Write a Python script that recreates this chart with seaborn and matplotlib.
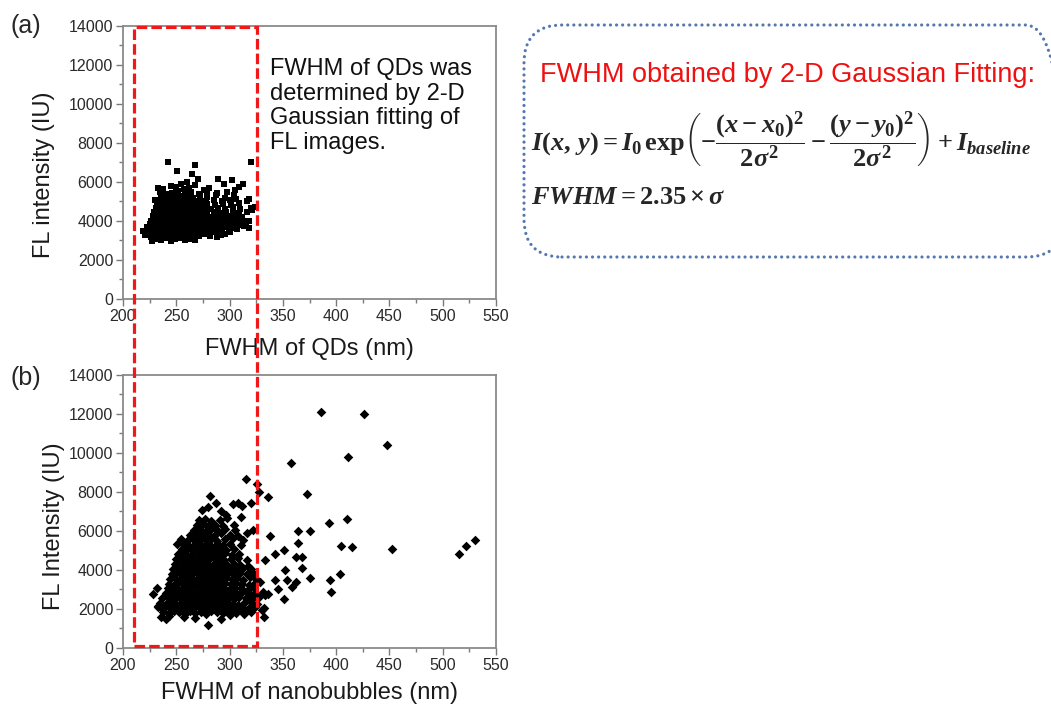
import matplotlib
matplotlib.use("Agg")
import matplotlib.pyplot as plt
import matplotlib.transforms as mtransforms
from matplotlib.patches import Rectangle, FancyBboxPatch
from matplotlib.ticker import MultipleLocator
import seaborn as sns

# (a) FL intensity vs FWHM of QDs
qd_fwhm = [
    227, 231, 236, 240, 245, 249, 254, 258, 263, 268,
    221, 226, 230, 234, 238, 242, 246, 250, 254, 258, 262, 266, 271, 276, 282, 288,
    219, 224, 228, 232, 236, 240, 244, 248, 252, 256, 260, 264, 268, 272, 277, 282, 287, 293, 299,
    223, 227, 231, 235, 239, 243, 247, 251, 255, 259, 263, 267, 271, 275, 280, 285, 290, 295, 301, 307, 313, 318,
    225, 229, 233, 237, 241, 245, 249, 253, 257, 261, 265, 269, 273, 277, 281, 286, 291, 296, 300, 305, 310, 315,
    226, 230, 234, 238, 242, 246, 250, 254, 258, 262, 266, 270, 274, 278, 283, 288, 293, 298, 303, 308, 313, 318,
    228, 232, 236, 240, 244, 248, 252, 256, 260, 264, 268, 272, 276, 281, 286, 292, 297, 302, 307, 312,
    229, 233, 237, 241, 245, 249, 253, 257, 261, 265, 269, 274, 279, 285, 291, 297, 303, 309, 316, 321,
    231, 235, 239, 243, 247, 251, 255, 259, 263, 267, 272, 277, 283, 289, 296, 303, 310, 320, 324,
    232, 236, 240, 244, 248, 252, 256, 260, 264, 268, 273, 279, 286, 294, 301, 309, 316,
    234, 238, 242, 246, 250, 254, 258, 262, 267, 272, 278, 285, 293, 300, 306,
    230, 236, 241, 246, 251, 256, 261, 266, 272, 279, 287, 296, 304, 318,
    235, 240, 246, 252, 258, 264, 271, 279, 288, 298, 305,
    233, 238, 245, 250, 254, 257, 262, 268, 276, 281, 289, 295, 302, 309, 313,
    242, 251, 265, 268, 320, 260, 270,
    314, 318, 296, 300, 292, 305,
]
qd_intensity = [
    2950, 3080, 3020, 3110, 2990, 3060, 3130, 3000, 3090, 3040,
    3300, 3200, 3260, 3340, 3220, 3290, 3180, 3350, 3240, 3310, 3200, 3280, 3230, 3320, 3250, 3190,
    3500, 3420, 3480, 3390, 3520, 3450, 3400, 3530, 3460, 3410, 3490, 3440, 3540, 3400, 3470, 3510, 3430, 3380, 3560,
    3700, 3620, 3680, 3600, 3720, 3650, 3590, 3710, 3640, 3690, 3610, 3730, 3660, 3600, 3700, 3640, 3580, 3690, 3620, 3570, 3800, 3650,
    3850, 3900, 3820, 3880, 3800, 3920, 3860, 3810, 3890, 3840, 3930, 3870, 3800, 3900, 3850, 3820, 3910, 3780, 3860, 3940, 3800, 3880,
    4000, 4080, 4030, 4100, 4010, 4060, 4120, 4040, 4090, 4000, 4070, 4110, 4020, 4060, 4100, 4030, 4080, 4000, 4120, 4050, 3980, 4020,
    4250, 4200, 4280, 4220, 4300, 4240, 4190, 4270, 4230, 4310, 4200, 4260, 4290, 4220, 4250, 4300, 4180, 4240, 4320, 4210,
    4450, 4400, 4480, 4420, 4500, 4440, 4390, 4470, 4430, 4510, 4400, 4460, 4420, 4480, 4400, 4450, 4500, 4420, 4480, 4550,
    4650, 4600, 4680, 4620, 4700, 4640, 4590, 4670, 4630, 4710, 4600, 4660, 4620, 4680, 4640, 4700, 4600, 4650, 4700,
    4850, 4800, 4880, 4820, 4900, 4840, 4790, 4870, 4830, 4910, 4800, 4860, 4820, 4880, 4840, 4900, 5000,
    5050, 5000, 5080, 5020, 5100, 5040, 4990, 5070, 5030, 5110, 5000, 5060, 5020, 5080, 5150,
    5100, 5250, 5200, 5280, 5220, 5300, 5240, 5190, 5270, 5230, 5310, 5200, 5350, 5150,
    5500, 5400, 5450, 5520, 5420, 5480, 5400, 5460, 5420, 5500, 5600,
    5700, 5650, 5800, 5750, 5900, 5650, 5700, 5850, 5600, 5700, 6150, 5900, 6100, 5750, 5900,
    7050, 6550, 6400, 6850, 7000, 6000, 6150,
    3750, 3620, 3350, 3450, 3300, 3900,
]

# (b) FL intensity vs FWHM of nanobubbles
nb_fwhm = [
    238, 243, 248, 253, 258, 263, 268, 273, 278, 283, 288, 294, 300, 306, 313, 320,
    233, 238, 243, 247, 251, 255, 259, 263, 267, 271, 275, 279, 283, 287, 291, 296, 301, 306, 312, 318, 324, 330,
    235, 240, 245, 249, 253, 257, 261, 265, 269, 273, 277, 281, 285, 289, 293, 298, 303, 308, 314, 320, 326,
    237, 242, 246, 250, 254, 258, 262, 266, 270, 274, 278, 282, 286, 290, 294, 299, 304, 309, 315, 321, 328,
    228, 240, 245, 249, 253, 257, 261, 265, 269, 273, 277, 281, 285, 289, 293, 297, 302, 307, 312, 318, 324, 331,
    232, 242, 247, 251, 255, 259, 263, 267, 271, 275, 279, 283, 287, 291, 295, 300, 305, 311, 317, 323,
    243, 248, 252, 256, 260, 264, 268, 272, 276, 280, 284, 288, 292, 296, 301, 306, 312, 318, 324, 329,
    244, 249, 253, 257, 261, 265, 269, 273, 277, 281, 285, 289, 293, 297, 302, 307, 313, 319, 325,
    246, 250, 254, 258, 262, 266, 270, 274, 278, 282, 286, 290, 294, 299, 304, 310, 316, 322,
    247, 251, 255, 259, 263, 267, 271, 275, 279, 283, 287, 291, 296, 301, 307, 313, 320,
    249, 253, 257, 261, 265, 269, 273, 277, 281, 285, 289, 293, 298, 304, 310, 317,
    250, 254, 258, 262, 266, 270, 274, 278, 282, 286, 290, 295, 301, 308, 316,
    252, 256, 260, 265, 270, 275, 279, 283, 287, 291, 296, 302, 309,
    255, 259, 264, 269, 274, 278, 282, 286, 291, 297, 304,
    251, 257, 262, 268, 273, 278, 283, 288, 294, 300, 311,
    254, 260, 266, 272, 277, 282, 288, 296, 303, 313,
    263, 269, 275, 280, 285, 292, 300, 308, 316,
    267, 272, 278, 283, 289, 296, 305, 322,
    269, 275, 280, 286, 294, 304,
    271, 277, 283, 291, 298,
    274, 280, 282, 287, 303, 308, 312, 315, 320, 326, 328, 297, 292, 311,
    236, 240, 257, 268, 280, 292, 300, 314, 243, 233,
    386, 426, 448, 411, 358, 373, 336, 393, 410, 364,
    375, 338, 405, 415, 452, 515, 522, 530, 364, 351,
    343, 362, 368, 333, 368, 352, 404, 375, 394, 343,
    354, 362, 345, 359, 395, 351, 336, 333, 332, 332,
]
nb_intensity = [
    1850, 1780, 1900, 1820, 1760, 1880, 1800, 1850, 1750, 1900, 1820, 1780, 1860, 1800, 1900, 1840,
    2100, 2000, 2080, 2020, 2110, 2050, 1990, 2090, 2030, 2120, 2000, 2070, 2040, 2100, 1980, 2060, 2120, 2010, 2080, 2030, 2100, 1950,
    2300, 2250, 2350, 2280, 2220, 2330, 2270, 2360, 2240, 2310, 2290, 2350, 2230, 2320, 2260, 2340, 2280, 2220, 2310, 2360, 2250,
    2550, 2600, 2500, 2580, 2520, 2610, 2540, 2500, 2590, 2560, 2620, 2510, 2570, 2600, 2530, 2580, 2500, 2620, 2560, 2520, 2600,
    2750, 2800, 2850, 2780, 2830, 2760, 2870, 2810, 2750, 2840, 2790, 2860, 2770, 2820, 2880, 2750, 2830, 2790, 2850, 2770, 2820, 2880,
    3100, 3050, 3000, 3090, 3030, 3100, 2990, 3060, 3120, 3020, 3080, 3000, 3110, 3040, 3070, 3000, 3100, 3050, 2980, 3080,
    3300, 3250, 3350, 3280, 3230, 3340, 3270, 3360, 3240, 3310, 3290, 3350, 3230, 3320, 3260, 3340, 3280, 3230, 3320, 3400,
    3550, 3600, 3500, 3580, 3520, 3610, 3540, 3500, 3590, 3560, 3620, 3510, 3570, 3600, 3530, 3580, 3500, 3620, 3560,
    3800, 3850, 3780, 3830, 3760, 3870, 3810, 3750, 3840, 3790, 3860, 3770, 3820, 3880, 3750, 3830, 3790, 3850,
    4050, 4000, 4090, 4030, 4100, 3990, 4060, 4120, 4020, 4080, 4000, 4110, 4040, 4070, 4000, 4100, 4050,
    4300, 4250, 4350, 4280, 4220, 4330, 4270, 4360, 4240, 4310, 4290, 4350, 4230, 4320, 4260, 4200,
    4550, 4600, 4500, 4580, 4520, 4610, 4540, 4500, 4590, 4560, 4620, 4510, 4570, 4600, 4530,
    4800, 4850, 4760, 4830, 4780, 4870, 4810, 4750, 4840, 4790, 4860, 4770, 4820,
    5050, 5000, 5100, 5020, 5080, 5000, 5110, 5040, 5070, 5000, 5100,
    5350, 5300, 5250, 5330, 5280, 5350, 5230, 5320, 5260, 5340, 5300,
    5600, 5500, 5580, 5520, 5600, 5540, 5500, 5580, 5620, 5550,
    5800, 5850, 5780, 5830, 5760, 5870, 5800, 5750, 5900,
    6050, 6100, 6000, 6080, 6020, 6100, 6050, 6050,
    6300, 6350, 6280, 6330, 6260, 6300,
    6550, 6600, 6520, 6580, 6650,
    7100, 7250, 7800, 7450, 7400, 7450, 7300, 8650, 7450, 8400, 8000, 6800, 7000, 6700,
    1600, 1500, 1600, 1550, 1200, 1500, 1700, 1750, 1650, 2150,
    12100, 11980, 10430, 9790, 9470, 7880, 7750, 6410, 6600, 6020,
    6020, 5740, 5250, 5200, 5090, 4820, 5230, 5540, 5400, 5030,
    4820, 4680, 4650, 4510, 4120, 3980, 3810, 3590, 3470, 3490,
    3470, 3370, 3010, 3140, 2850, 2510, 2770, 2700, 2030, 1600,
]

x_ticks = [200, 250, 300, 350, 400, 450, 500, 550]
y_ticks = [0, 2000, 4000, 6000, 8000, 10000, 12000, 14000]

sns.set_style("white")
plt.rcParams['font.family'] = ['Liberation Sans', 'DejaVu Sans']
plt.rcParams['mathtext.fontset'] = 'custom'
plt.rcParams['mathtext.it'] = 'Liberation Serif:italic:bold'
plt.rcParams['mathtext.rm'] = 'Liberation Serif:bold'
plt.rcParams['mathtext.bf'] = 'Liberation Serif:bold'

fig = plt.figure(figsize=(10.51, 7.06), dpi=100)
ax_a = fig.add_axes([0.117, 0.5765, 0.355, 0.3867])
ax_b = fig.add_axes([0.117, 0.0822, 0.355, 0.3867])

sns.scatterplot(x=qd_fwhm, y=qd_intensity, ax=ax_a, marker='s', s=13,
                color='black', linewidth=0)
sns.scatterplot(x=nb_fwhm, y=nb_intensity, ax=ax_b, marker='D', s=24,
                color='black', linewidth=0)

panels = [(ax_a, 'FL intensity (IU)', 'FWHM of QDs (nm)', -0.183, 0.454, 10),
          (ax_b, 'FL Intensity (IU)', 'FWHM of nanobubbles (nm)', -0.155, 0.447, 7)]
for ax, ylab, xlab, lx, ly, xpad in panels:
    ax.set_xlim(200, 550)
    ax.set_ylim(0, 14000)
    ax.set_xticks(x_ticks)
    ax.set_yticks(y_ticks)
    ax.xaxis.set_minor_locator(MultipleLocator(25))
    ax.yaxis.set_minor_locator(MultipleLocator(1000))
    ax.tick_params(which='both', direction='out', bottom=True, left=True,
                   top=False, right=False, color='#7a7a7a', width=1.0,
                   labelcolor='#2a2a2a', labelsize=11.5, pad=2)
    ax.tick_params(which='major', length=5)
    ax.tick_params(which='minor', length=3)
    for sp in ax.spines.values():
        sp.set_color('#8a8a8a')
        sp.set_linewidth(1.3)
    ax.set_xlabel(xlab, fontsize=17, color='#1a1a1a', labelpad=xpad)
    ax.set_ylabel(ylab, fontsize=17, color='#1a1a1a')
    ax.yaxis.set_label_coords(lx, ly)

fig.text(10 / 1051, 1 - 26 / 706, '(a)', fontsize=18, va='center', ha='left')
fig.text(10 / 1051, 1 - 378 / 706, '(b)', fontsize=18, va='center', ha='left')

fig.text(270 / 1051, 1 - 58 / 706,
         'FWHM of QDs was\ndetermined by 2-D\nGaussian fitting of\nFL images.',
         fontsize=17, va='top', ha='left', linespacing=1.15, color='#111111')

# red dashed window across both panels
blend = mtransforms.blended_transform_factory(ax_b.transData, fig.transFigure)
window = Rectangle((210, 1 - 646 / 706), 116, (646 - 27) / 706, transform=blend,
                   fill=False, edgecolor='#f01818', linewidth=2.3,
                   linestyle=(0, (3.3, 1.3)), zorder=5)
fig.add_artist(window)

# dotted rounded box with the fitting formula
box = FancyBboxPatch((5.24, 4.49), 5.4, 2.32,
                     boxstyle="round,pad=0,rounding_size=0.38",
                     transform=fig.dpi_scale_trans, fill=False,
                     edgecolor='#5577b0', linewidth=2.3,
                     linestyle=(0, (0.01, 1.9)), capstyle='round')
fig.add_artist(box)

fig.text(540 / 1051, 1 - 75 / 706, 'FWHM obtained by 2-D Gaussian Fitting:',
         fontsize=19.5, color='#ee1111', va='center', ha='left')
fig.text(531 / 1051, 1 - 140 / 706,
         r'$I(x,\,y) = I_0\,\mathrm{exp}\left(-\dfrac{(x-x_0)^2}{2\sigma^2}'
         r' - \dfrac{(y-y_0)^2}{2\sigma^2}\right) + I_{baseline}$',
         fontsize=19, va='center', ha='left')
fig.text(531 / 1051, 1 - 197 / 706, r'$FWHM = 2.35\times\sigma$',
         fontsize=19, va='center', ha='left')

fig.savefig('out.png', dpi=100)
